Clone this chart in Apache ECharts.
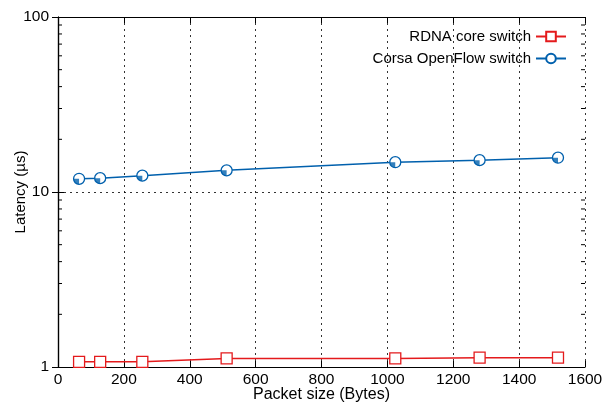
<!DOCTYPE html>
<html>
<head>
<meta charset="utf-8">
<script src="https://cdn.jsdelivr.net/npm/echarts@6/dist/echarts.min.js"></script>
<style>
  html, body { margin: 0; padding: 0; background: #fff; }
  #main { width: 605px; height: 406px; }
</style>
</head>
<body>
<div id="main"></div>
<script>
// packet sizes in bytes
const packetSizes = [64, 128, 256, 512, 1024, 1280, 1518];
// latency in microseconds
const rdnaLatency = [1.07, 1.07, 1.07, 1.12, 1.12, 1.13, 1.13];
const corsaLatency = [11.9, 12.0, 12.4, 13.3, 14.8, 15.2, 15.7];
const xTicks = [0, 200, 400, 600, 800, 1000, 1200, 1400, 1600];
const yTicks = [1, 10, 100];
const yMinorTicks = [2, 3, 4, 5, 6, 7, 8, 9, 20, 30, 40, 50, 60, 70, 80, 90];

const FONT = "'Liberation Sans', Arial, sans-serif";
const RED = '#e41a1c';
const BLUE = '#0060ad';
const xMin = xTicks[0];
const xMax = xTicks[xTicks.length - 1];

const pairs = (ys) => packetSizes.map((x, i) => [x, ys[i]]);

const myChart = echarts.init(document.getElementById('main'));

// gnuplot style axes: ticks inside, mirrored
const xBase = {
  type: 'value', min: xMin, max: xMax, interval: 200,
  axisLine: { show: true, onZero: false, lineStyle: { color: '#000', width: 1.2 } },
  axisTick: { show: true, inside: true, length: 6, lineStyle: { color: '#000' } }
};
const yBase = {
  type: 'log', logBase: 10, min: yTicks[0], max: yTicks[yTicks.length - 1],
  axisLine: { show: true, lineStyle: { color: '#000', width: 1.2 } },
  axisTick: { show: true, inside: true, length: 6, lineStyle: { color: '#000' } }
};
const gridDash = { show: true, lineStyle: { color: '#000', type: [2, 4], width: 1, opacity: 0.8 } };

// short minor ticks on both y borders, placed through the axis scales
function minorTicks(params, api) {
  const v = api.value(1);
  const pl = api.coord([xMin, v]);
  const pr = api.coord([xMax, v]);
  const style = { stroke: '#000', lineWidth: 1 };
  return {
    type: 'group',
    children: [
      { type: 'line', shape: { x1: pl[0], y1: pl[1], x2: pl[0] + 4, y2: pl[1] }, style: style },
      { type: 'line', shape: { x1: pr[0] - 4, y1: pr[1], x2: pr[0], y2: pr[1] }, style: style }
    ]
  };
}

myChart.setOption({
  animation: false,
  backgroundColor: '#fff',
  textStyle: { fontFamily: FONT },
  grid: { left: 58, right: 20, top: 17, bottom: 39, outerBoundsMode: 'none', containLabel: false },
  legend: {
    orient: 'vertical',
    right: 33, top: 24,
    align: 'right',
    itemWidth: 30, itemHeight: 12, itemGap: 7,
    textStyle: { fontFamily: FONT, fontSize: 15, color: '#000' },
    data: ['RDNA core switch', 'Corsa OpenFlow switch']
  },
  xAxis: [
    Object.assign({}, xBase, {
      position: 'bottom',
      name: 'Packet size (Bytes)', nameLocation: 'middle', nameGap: 20, nameMoveOverlap: false,
      nameTextStyle: { fontFamily: FONT, fontSize: 16, color: '#000' },
      axisLabel: { fontFamily: FONT, fontSize: 15.5, color: '#000', margin: 5, formatter: (v) => String(v) },
      splitLine: gridDash
    }),
    Object.assign({}, xBase, {
      position: 'top', axisLabel: { show: false }, splitLine: { show: false }
    })
  ],
  yAxis: [
    Object.assign({}, yBase, {
      position: 'left',
      name: 'Latency (µs)', nameLocation: 'middle', nameGap: 30, nameMoveOverlap: false,
      nameTextStyle: { fontFamily: FONT, fontSize: 15, color: '#000' },
      axisLabel: { fontFamily: FONT, fontSize: 15.5, color: '#000', margin: 9, formatter: (v) => String(v) },
      splitLine: gridDash
    }),
    Object.assign({}, yBase, {
      position: 'right', axisLabel: { show: false }, splitLine: { show: false }
    })
  ],
  series: [
    {
      name: 'minor-ticks',
      type: 'custom',
      data: yMinorTicks.map((v) => [xMin, v]),
      encode: { x: 0, y: 1 },
      renderItem: minorTicks,
      silent: true,
      clip: false,
      z: 5
    },
    {
      name: 'RDNA core switch',
      type: 'line',
      data: pairs(rdnaLatency),
      symbol: 'rect', symbolSize: 11,
      lineStyle: { color: RED, width: 1.5 },
      itemStyle: { color: '#fff', borderColor: RED, borderWidth: 1.3 },
      z: 3
    },
    {
      name: 'Corsa OpenFlow switch',
      type: 'line',
      data: pairs(corsaLatency),
      symbol: 'circle', symbolSize: 11,
      lineStyle: { color: BLUE, width: 1.5 },
      itemStyle: { color: '#fff', borderColor: BLUE, borderWidth: 1.3 },
      z: 3
    },
    {
      // filled quarter inside the circle markers
      name: 'corsa-quarter',
      type: 'scatter',
      data: pairs(corsaLatency),
      symbol: 'path://M10,0 L10,10 A10,10 0 0 1 0,0 Z',
      symbolSize: [5.5, 5.5], symbolOffset: [-2.75, 2.75],
      itemStyle: { color: BLUE },
      silent: true,
      z: 4
    }
  ]
});
</script>
</body>
</html>
